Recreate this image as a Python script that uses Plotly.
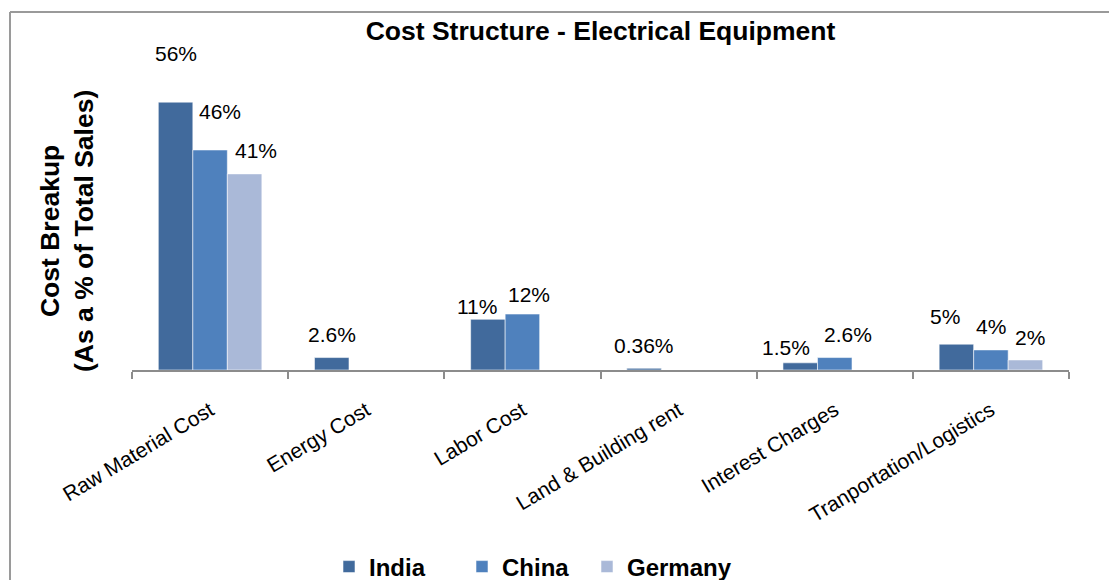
import plotly.graph_objects as go

# ---------------- data ----------------
categories = ["Raw Material Cost", "Energy Cost", "Labor Cost",
              "Land & Building rent", "Interest Charges", "Tranportation/Logistics"]
series_names = ["India", "China", "Germany"]
india = [56, 2.6, 10.6, 0.36, 1.5, 5.4]
china = [46, None, 11.7, None, 2.6, 4.2]
germany = [41, None, None, None, None, 2.1]
india_labels = ["56%", "2.6%", "11%", "0.36%", "1.5%", "5%"]
china_labels = ["46%", "", "12%", "", "2.6%", "4%"]
germany_labels = ["41%", "", "", "", "", "2%"]

# ---------------- style ----------------
colors = ["#416A9C", "#4F81BD", "#AAB9D8"]
W, H = 1109, 580
L, R, T, B = 132, 40, 83, 210
PW, PH = W - L - R, H - T - B
BAR_PX = 34.5
# label offsets (dx, dy) in pixels relative to bar top centre
india_off = [(0, -49), (0, -23), (-11, -13), (0, -23), (-14, -15), (-11, -28)]
china_off = [(10, -38), None, (7, -20), None, (13, -23), (0, -23.5)]
germany_off = [(11, -23.5), None, None, None, None, (4.5, -22)]
# legend entry text start (px)
legend_text_px = [369, 502, 627]

def px_x(px):
    return (px - L) / PW

def px_y(py):
    return (H - B - py) / PH

FONT = "Liberation Sans, Arial, sans-serif"

fig = go.Figure()
legend_ids = ["legend", "legend2", "legend3"]
for name, vals, col, lid in zip(series_names, [india, china, germany], colors, legend_ids):
    fig.add_trace(go.Bar(
        name="<b>" + name + "</b>", x=categories, y=vals,
        marker=dict(color=col, line=dict(color="rgba(255,255,255,0.55)", width=1)),
        hoverinfo="skip", legend=lid,
    ))

annotations = []
for i, (vals, labs, offs) in enumerate(zip([india, china, germany],
                                           [india_labels, china_labels, germany_labels],
                                           [india_off, china_off, germany_off])):
    for c, v, lab, off in zip(categories, vals, labs, offs):
        if v is None or not lab:
            continue
        annotations.append(dict(
            x=c, y=v, xref="x", yref="y", text=lab, showarrow=False,
            xanchor="center", yanchor="middle",
            xshift=(i - 1) * BAR_PX + off[0], yshift=-off[1],
            font=dict(family=FONT, size=21, color="#000000"),
        ))

annotations.append(dict(
    x=px_x(67), y=px_y(231), xref="paper", yref="paper",
    text="<b>Cost Breakup</b><br><b>(As a % of Total Sales)</b>",
    textangle=-90, showarrow=False, xanchor="center", yanchor="middle",
    font=dict(family=FONT, size=26.5, color="#000000"),
))

shapes = [
    dict(type="line", xref="paper", yref="paper",
         x0=px_x(10), x1=px_x(W + 5), y0=px_y(12), y1=px_y(12),
         line=dict(color="#9A9A9A", width=2)),
    dict(type="line", xref="paper", yref="paper",
         x0=px_x(10), x1=px_x(10), y0=px_y(12), y1=px_y(H + 5),
         line=dict(color="#9A9A9A", width=2)),
]

def legend_cfg(text_px):
    return dict(orientation="h", x=px_x(text_px - 40), xanchor="left",
                y=px_y(567), yanchor="middle",
                font=dict(family=FONT, size=24, color="#000000"),
                itemwidth=30, bgcolor="rgba(0,0,0,0)", borderwidth=0)

fig.update_layout(
    width=W, height=H,
    margin=dict(l=L, r=R, t=T, b=B, autoexpand=False),
    paper_bgcolor="white", plot_bgcolor="white",
    barmode="group", bargap=0.337, bargroupgap=0,
    title=dict(text="<b>Cost Structure - Electrical Equipment</b>",
               x=0.5, xref="paper", xanchor="center",
               y=1 - 31 / H, yanchor="middle",
               font=dict(family=FONT, size=26.5, color="#000000")),
    xaxis=dict(showline=True, linecolor="#8C8C8C", linewidth=2,
               ticks="outside", tickson="boundaries", ticklen=7,
               tickcolor="#8C8C8C", tickwidth=2, tickangle=-31,
               ticklabelstandoff=18,
               tickfont=dict(family=FONT, size=21, color="#000000"),
               showgrid=False, zeroline=False, automargin=False),
    yaxis=dict(range=[0, 60], showline=False, showticklabels=False,
               ticks="", showgrid=False, zeroline=False, automargin=False),
    legend=legend_cfg(legend_text_px[0]),
    legend2=legend_cfg(legend_text_px[1]),
    legend3=legend_cfg(legend_text_px[2]),
    annotations=annotations,
    shapes=shapes,
    showlegend=True,
)

fig.write_html("out.html")
